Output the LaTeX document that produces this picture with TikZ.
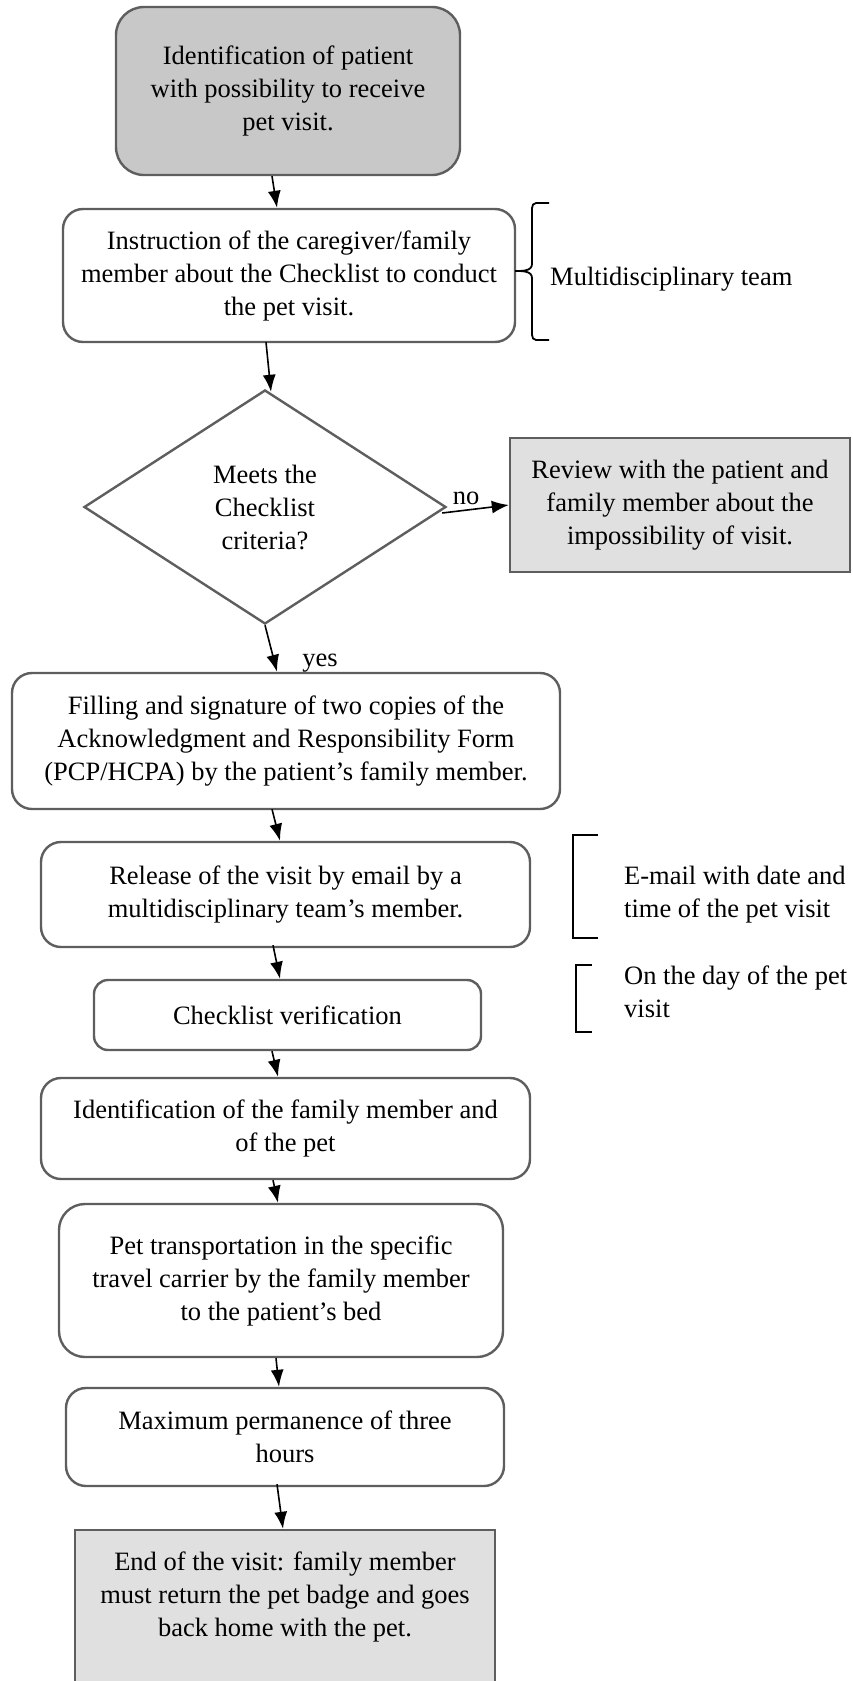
\documentclass[tikz,border=0pt]{standalone}
\usepackage{fontspec}
\setmainfont{Liberation Serif}
\usetikzlibrary{shapes.geometric,arrows.meta,calc}
\definecolor{edgegray}{HTML}{5E5E5E}
\definecolor{darkfill}{HTML}{C8C8C8}
\definecolor{lightfill}{HTML}{E0E0E0}
\tikzset{
  x=1pt, y=-1pt,
  txt/.style={font=\fontsize{26.5}{33}\selectfont, align=center},
  rbox/.style={txt, draw=edgegray, line width=2.4pt, rounded corners=20pt, inner sep=0pt, fill=white},
  sbox/.style={txt, draw=edgegray, line width=2.4pt, inner sep=0pt, fill=lightfill},
  decision/.style={txt, diamond, draw=edgegray, line width=2.4pt, inner sep=0pt, aspect=1.55},
  arr/.style={line width=1.6pt, -{Latex[length=17pt,width=13pt]}},
  bracketline/.style={line width=1.8pt, black},
  note/.style={font=\fontsize{26.5}{33}\selectfont, align=left, inner sep=0pt, anchor=west},
  lbl/.style={font=\fontsize{26.5}{33}\selectfont, inner sep=0pt}
}
\begin{document}
\begin{tikzpicture}
\useasboundingbox (0,0) rectangle (853,1681);

\node[rbox, fill=darkfill, rounded corners=28pt, minimum width=344pt, minimum height=168pt] (b1) at (288,91)
  {Identification of patient\\with possibility to receive\\pet visit.};
\node[rbox, minimum width=452pt, minimum height=133pt] (b2) at (289,275.5)
  {Instruction of the caregiver/family\\member about the Checklist to conduct\\the pet visit.};
\node[decision, minimum width=362pt, minimum height=234pt] (d) at (265,507)
  {Meets the\\Checklist\\criteria?};
\node[sbox, minimum width=340pt, minimum height=134pt] (rv) at (680,505)
  {Review with the patient and\\family member about the\\impossibility of visit.};
\node[rbox, minimum width=548pt, minimum height=136pt] (b3) at (286,741)
  {Filling and signature of two copies of the\\Acknowledgment and Responsibility Form\\(PCP/HCPA) by the patient’s family member.};
\node[rbox, minimum width=489pt, minimum height=105pt] (b4) at (285.5,894.5)
  {Release of the visit by email by a\\multidisciplinary team’s member.};
\node[rbox, rounded corners=14pt, minimum width=387pt, minimum height=70pt] (b5) at (287.5,1015)
  {Checklist verification};
\node[rbox, minimum width=489pt, minimum height=101pt] (b6) at (285.5,1128.5)
  {Identification of the family member and\\of the pet};
\node[rbox, rounded corners=26pt, minimum width=444pt, minimum height=153pt] (b7) at (281,1280.5)
  {Pet transportation in the specific\\travel carrier by the family member\\to the patient’s bed};
\node[rbox, minimum width=438pt, minimum height=98pt] (b8) at (285,1437)
  {Maximum permanence of three\\hours};
\node[sbox, minimum width=420pt, minimum height=170pt] (b9) at (285,1615)
  {End of the visit: family member\\must return the pet badge and goes\\back home with the pet.\\[9pt]};

% connectors
\draw[arr] ([xshift=-16pt]b1.south) -- ([xshift=-12pt]b2.north);
\draw[arr] ([xshift=-23pt,yshift=1pt]b2.south) -- ([xshift=6pt,yshift=-3pt]d.north);
\draw[arr] ([xshift=-5pt,yshift=-6pt]d.east) -- (rv.west);
\node[lbl] (nolbl) at ([xshift=19pt,yshift=9pt]d.east) {no};
\draw[arr] (d.south) -- ([xshift=-9pt]b3.north);
\node[lbl] (yeslbl) at ([xshift=55pt,yshift=-38pt]d.south) {yes};
\draw[arr] ([xshift=-14pt,yshift=1pt]b3.south) -- ([xshift=-5.5pt]b4.north);
\draw[arr] ([xshift=-12.5pt,yshift=3pt]b4.south) -- ([xshift=-7.5pt]b5.north);
\draw[arr] ([xshift=-15.5pt]b5.south) -- ([xshift=-7.5pt]b6.north);
\draw[arr] ([xshift=-12.5pt]b6.south) -- ([xshift=-3pt]b7.north);
\draw[arr] ([xshift=-5pt]b7.south) -- ([xshift=-6pt]b8.north);
\draw[arr] ([xshift=-8pt,yshift=3pt]b8.south) -- ([xshift=-2pt]b9.north);

% brace beside b2
\coordinate (brtip) at (515,271);
\draw[bracketline] (549,203) -- (536,203) to[out=180,in=90] (532,208) -- (532,264)
  to[out=-90,in=0] (brtip) to[out=0,in=90] (532,278) -- (532,335)
  to[out=-90,in=180] (536,340) -- (549,340);
\node[note] (mt) at (550,279) {Multidisciplinary team};

% bracket for e-mail
\draw[bracketline] (598,835) -- (573,835) -- (573,938) -- (598,938);
\node[note] (em) at (624,894.5) {E-mail with date and\\time of the pet visit};

% bracket for day of visit
\draw[bracketline] (592,965) -- (576,965) -- (576,1032) -- (592,1032);
\node[note] (dv) at (624,992) {On the day of the pet\\visit};
\end{tikzpicture}
\end{document}
